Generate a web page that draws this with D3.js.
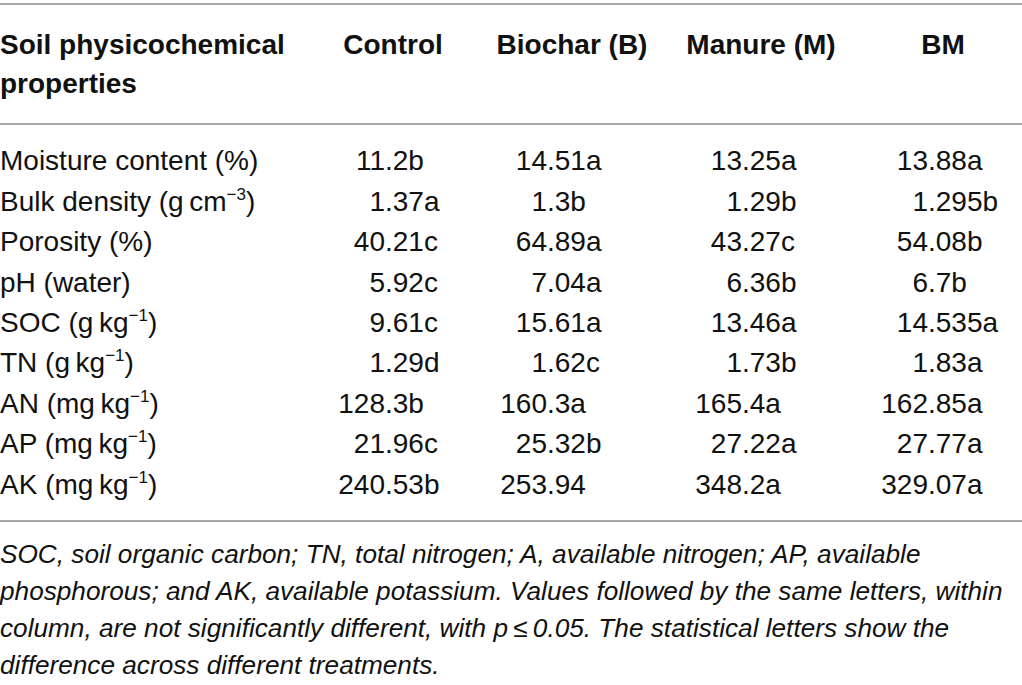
<!DOCTYPE html>
<html>
<head>
<meta charset="utf-8">
<script src="https://cdn.jsdelivr.net/npm/d3@7"></script>
<style>
  body { margin: 0; background: #fff; }
  text { font-family: "Liberation Sans", Arial, Helvetica, sans-serif; fill: #111; }
</style>
</head>
<body>
<div id="container"></div>
<script>
/* CONSTANTS AND GLOBALS */
const width = 1022,
  height = 685;

/* DATA */
const treatments = ["Control", "Biochar (B)", "Manure (M)", "BM"];

// "^" marks the superscript part of the unit
const properties = [
  "Moisture content (%)",
  "Bulk density (g\u2009cm^\u22123)",
  "Porosity (%)",
  "pH (water)",
  "SOC (g\u2009kg^\u22121)",
  "TN (g\u2009kg^\u22121)",
  "AN (mg\u2009kg^\u22121)",
  "AP (mg\u2009kg^\u22121)",
  "AK (mg\u2009kg^\u22121)"
];

const controlValues = ["11.2b", "1.37a", "40.21c", "5.92c", "9.61c", "1.29d", "128.3b", "21.96c", "240.53b"];
const biocharValues = ["14.51a", "1.3b", "64.89a", "7.04a", "15.61a", "1.62c", "160.3a", "25.32b", "253.94"];
const manureValues = ["13.25a", "1.29b", "43.27c", "6.36b", "13.46a", "1.73b", "165.4a", "27.22a", "348.2a"];
const bmValues = ["13.88a", "1.295b", "54.08b", "6.7b", "14.535a", "1.83a", "162.85a", "27.77a", "329.07a"];

const footnote = [
  "SOC, soil organic carbon; TN, total nitrogen; A, available nitrogen; AP, available",
  "phosphorous; and AK, available potassium. Values followed by the same letters, within",
  "column, are not significantly different, with p\u2009\u2264\u20090.05. The statistical letters show the",
  "difference across different treatments."
];

const columns = [controlValues, biocharValues, manureValues, bmValues];

/* SCALES */
const svg = d3.select("#container")
  .append("svg")
  .attr("width", width)
  .attr("height", height)

// rows of the table body
const yScale = d3.scaleBand()
  .domain(properties)
  .range([140, 504])

// header centres and decimal point anchors per treatment
const headerX = d3.scaleOrdinal()
  .domain(treatments)
  .range([393, 572, 761, 943])

const decimalX = d3.scaleOrdinal()
  .domain(treatments)
  .range([385, 547, 742, 928])

const fontSize = 28

/* RULES */
const rules = [4, 124, 521]
svg.selectAll(".rule")
  .data(rules)
  .join("line")
  .attr("class", "rule")
  .attr("x1", 0)
  .attr("x2", width)
  .attr("y1", d => d)
  .attr("y2", d => d)
  .attr("stroke", "#8a8a8a")
  .attr("stroke-width", 1.6)

/* HEADER */
const header = svg.append("g").attr("class", "header")
  .style("font-weight", "bold")
  .style("font-size", fontSize + "px")

header.append("text")
  .attr("x", 0)
  .attr("y", 54)
  .selectAll("tspan")
  .data(["Soil physicochemical", "properties"])
  .join("tspan")
  .attr("x", 0)
  .attr("dy", (d, i) => i ? 39 : 0)
  .text(d => d)

header.selectAll(".treat")
  .data(treatments)
  .join("text")
  .attr("class", "treat")
  .attr("x", d => headerX(d))
  .attr("y", 54)
  .attr("text-anchor", "middle")
  .text(d => d)

/* BODY */
const body = svg.append("g").attr("class", "body")
  .style("font-size", fontSize + "px")

const labels = body.selectAll(".label")
  .data(properties)
  .join("text")
  .attr("class", "label")
  .attr("x", 0)
  .attr("y", d => yScale(d) + yScale.bandwidth() / 2 + 10)

labels.each(function(d) {
  const t = d3.select(this)
  const m = d.match(/^(.*)\^(.+)\)$/)
  if (!m) { t.text(d); return }
  t.append("tspan").text(m[1])
  t.append("tspan").attr("dy", -11).style("font-size", "17px").text(m[2])
  t.append("tspan").attr("dy", 11).text(")")
})

columns.forEach((vals, ci) => {
  const treat = treatments[ci]
  const cells = vals.map((v, ri) => ({ v, prop: properties[ri] }))
  const g = body.append("g").attr("class", "col")

  g.selectAll(".int")
    .data(cells)
    .join("text")
    .attr("class", "int")
    .attr("x", decimalX(treat))
    .attr("y", d => yScale(d.prop) + yScale.bandwidth() / 2 + 10)
    .attr("text-anchor", "end")
    .text(d => d.v.split(".")[0])

  g.selectAll(".frac")
    .data(cells)
    .join("text")
    .attr("class", "frac")
    .attr("x", decimalX(treat))
    .attr("y", d => yScale(d.prop) + yScale.bandwidth() / 2 + 10)
    .text(d => "." + d.v.split(".")[1])
})

/* FOOTNOTE */
const note = svg.append("g").attr("class", "footnote")
  .style("font-style", "italic")
  .style("font-size", "26.2px")

note.selectAll("text")
  .data(footnote)
  .join("text")
  .attr("x", 0)
  .attr("y", (d, i) => 563 + i * 37)
  .text(d => d)
</script>
</body>
</html>
